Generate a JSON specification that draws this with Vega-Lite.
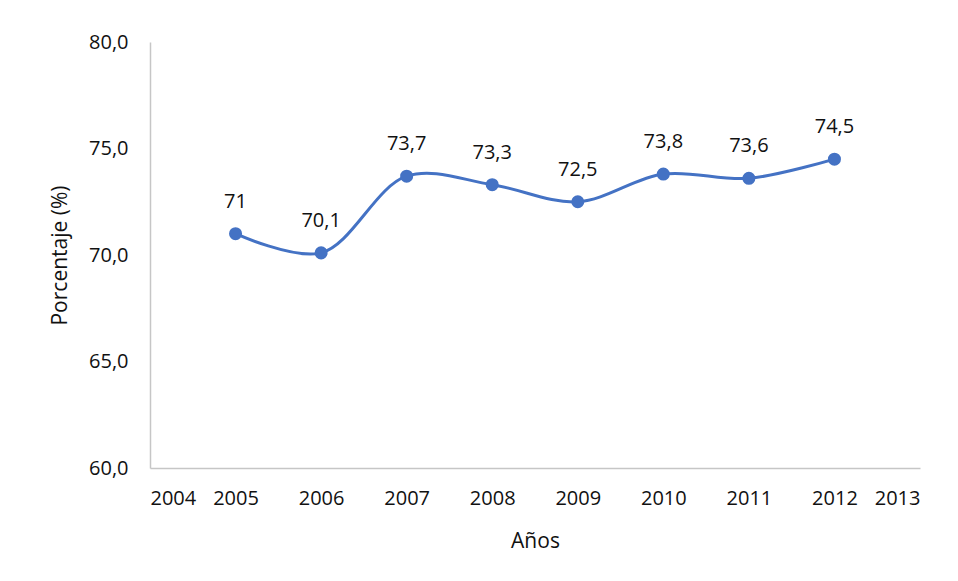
{
  "$schema": "https://vega.github.io/schema/vega-lite/v6.json",
  "width": 770,
  "height": 426,
  "autosize": {"type": "none"},
  "padding": {"left": 150, "top": 42, "right": 38, "bottom": 113},
  "background": "white",
  "config": {
    "view": {"stroke": null},
    "font": "Open Sans",
    "locale": {"number": {"decimal": ",", "thousands": ".", "grouping": [3], "currency": ["", " €"]}}
  },
  "data": {
    "values": [
      {"year": 2005, "pct": 71.0, "label": "71"},
      {"year": 2006, "pct": 70.1, "label": "70,1"},
      {"year": 2007, "pct": 73.7, "label": "73,7"},
      {"year": 2008, "pct": 73.3, "label": "73,3"},
      {"year": 2009, "pct": 72.5, "label": "72,5"},
      {"year": 2010, "pct": 73.8, "label": "73,8"},
      {"year": 2011, "pct": 73.6, "label": "73,6"},
      {"year": 2012, "pct": 74.5, "label": "74,5"}
    ]
  },
  "encoding": {
    "x": {
      "field": "year",
      "type": "quantitative",
      "scale": {"domain": [2004, 2013], "nice": false, "zero": false},
      "axis": {
        "title": "Años",
        "values": [2004, 2005, 2006, 2007, 2008, 2009, 2010, 2011, 2012, 2013],
        "format": "d",
        "grid": false,
        "ticks": false,
        "domainColor": "#c6c6c6",
        "domainWidth": 1.5,
        "labelFontSize": 20,
        "labelColor": "#111",
        "labelPadding": 20,
        "titleFontSize": 21,
        "titleFontWeight": "normal",
        "titleColor": "#111",
        "titlePadding": 22
      }
    },
    "y": {
      "field": "pct",
      "type": "quantitative",
      "scale": {"domain": [60, 80], "nice": false, "zero": false},
      "axis": {
        "title": "Porcentaje (%)",
        "values": [60, 65, 70, 75, 80],
        "format": ".1f",
        "grid": false,
        "ticks": false,
        "domainColor": "#c6c6c6",
        "domainWidth": 1.5,
        "labelFontSize": 20,
        "labelColor": "#111",
        "labelPadding": 22,
        "titleFontSize": 21,
        "titleFontWeight": "normal",
        "titleColor": "#111",
        "titlePadding": 18
      }
    }
  },
  "layer": [
    {
      "mark": {"type": "line", "interpolate": "catmull-rom", "color": "#4472C4", "strokeWidth": 3}
    },
    {
      "mark": {"type": "point", "filled": true, "color": "#4472C4", "size": 170, "opacity": 1}
    },
    {
      "mark": {"type": "text", "dy": -32, "fontSize": 20, "color": "#111", "baseline": "middle"},
      "encoding": {"text": {"field": "label"}}
    }
  ]
}
